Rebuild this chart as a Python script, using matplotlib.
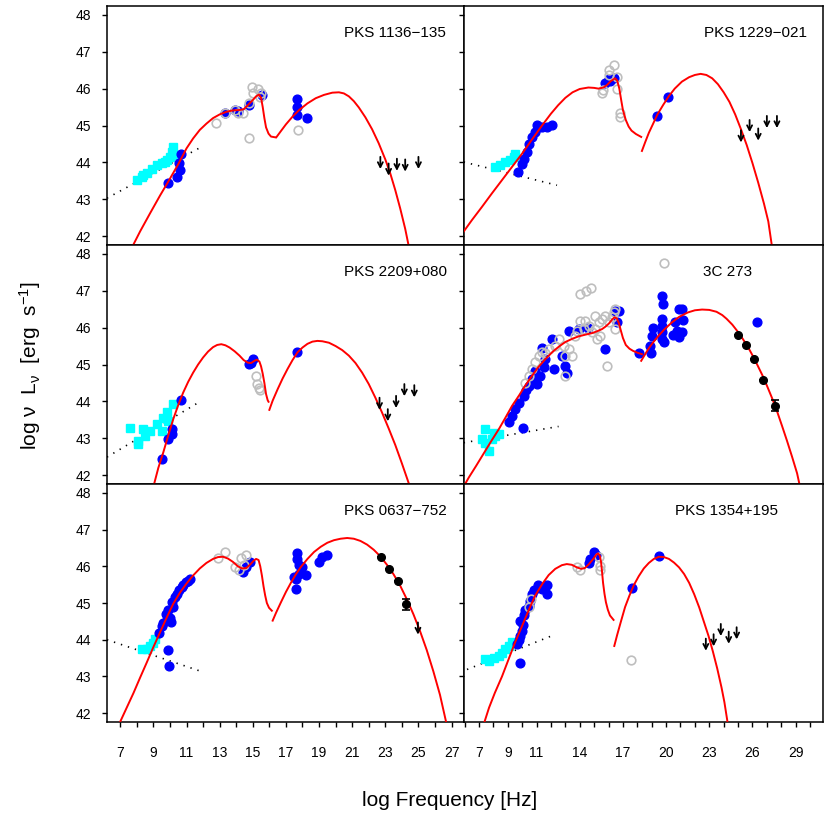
import numpy as np
import matplotlib
matplotlib.use("Agg")
import matplotlib.pyplot as plt

plt.rcParams['font.family'] = ['Liberation Sans', 'DejaVu Sans']
plt.rcParams['mathtext.default'] = 'regular'

# ---------------- PKS 1136-135 ----------------
p1_name = "PKS 1136\u2212135"
p1_sync = [(7.6, 41.6), (8.2, 42.13), (8.8, 42.62), (9.4, 43.1), (9.9, 43.48), (10.5, 43.95), (11.0, 44.38),
           (11.4, 44.65), (11.8, 44.88), (12.2, 45.05), (12.6, 45.2), (13.0, 45.3), (13.4, 45.37),
           (13.8, 45.41), (14.2, 45.42), (14.45, 45.44), (14.7, 45.55), (15.0, 45.69), (15.2, 45.79),
           (15.37, 45.84), (15.5, 45.75), (15.6, 45.5), (15.7, 45.2), (15.8, 44.95), (15.95, 44.78),
           (16.1, 44.7), (16.35, 44.68)]
p1_ic = [(16.42, 44.68), (16.7, 44.85), (17.0, 45.03), (17.4, 45.24), (17.8, 45.42), (18.3, 45.6),
         (18.8, 45.74), (19.3, 45.83), (19.8, 45.89), (20.2, 45.9), (20.5, 45.87), (20.8, 45.79),
         (21.1, 45.66), (21.4, 45.49), (21.8, 45.22), (22.2, 44.9), (22.6, 44.52), (23.0, 44.08),
         (23.3, 43.7), (23.6, 43.25), (23.9, 42.75), (24.2, 42.2), (24.45, 41.65)]
p1_blue = [(9.9, 43.44), (10.4, 43.61), (10.6, 43.79), (10.57, 43.97), (10.65, 44.24), (13.3, 45.33),
           (13.9, 45.42), (14.1, 45.4), (14.8, 45.55), (15.55, 45.83), (17.67, 45.73), (17.65, 45.51),
           (17.65, 45.28), (18.3, 45.19)]
p1_gray = [(12.8, 45.07), (13.3, 45.34), (13.9, 45.43), (14.1, 45.33), (14.4, 45.35), (14.78, 44.65),
           (14.8, 45.6), (14.96, 46.05), (15.3, 46.0), (15.0, 45.87), (15.5, 45.87), (15.45, 45.76), (17.7, 44.87)]
p1_cyan = [(8.0, 43.52), (8.3, 43.61), (8.4, 43.65), (8.6, 43.7), (8.9, 43.83), (9.2, 43.92), (9.5, 43.97),
           (9.7, 44.0), (9.8, 44.06), (10.0, 44.15), (10.2, 44.2), (10.1, 44.28), (10.2, 44.42)]
p1_dot = [(6.2, 43.03), (11.9, 44.42)]
p1_ul = [(22.7, 44.15), (23.2, 43.97), (23.7, 44.1), (24.2, 44.08), (25.0, 44.15)]
p1_black = []
p1_err = []

# ---------------- PKS 1229-021 ----------------
p2_name = "PKS 1229\u2212021"
p2_sync = [(5.8, 42.05), (6.5, 42.43), (7.2, 42.79), (7.9, 43.16), (8.6, 43.52), (9.3, 43.88), (10.0, 44.24),
           (10.7, 44.63), (11.4, 45.01), (12.0, 45.32), (12.5, 45.55), (13.0, 45.75), (13.5, 45.9),
           (14.0, 45.99), (14.6, 46.03), (15.0, 46.02), (15.3, 46.0), (15.65, 46.03), (15.9, 46.1),
           (16.15, 46.2), (16.45, 46.28), (16.6, 46.22), (16.75, 46.0), (16.88, 45.69), (17.0, 45.42),
           (17.2, 45.15), (17.4, 44.97), (17.6, 44.86), (17.9, 44.77), (18.27, 44.69)]
p2_ic = [(18.32, 44.31), (18.55, 44.55), (18.8, 44.8), (19.1, 45.05), (19.4, 45.3), (19.8, 45.56),
         (20.2, 45.8), (20.6, 46.0), (21.1, 46.19), (21.6, 46.31), (22.0, 46.37), (22.4, 46.4),
         (22.8, 46.37), (23.2, 46.28), (23.6, 46.12), (24.0, 45.9), (24.4, 45.64), (24.8, 45.3),
         (25.2, 44.9), (25.6, 44.47), (26.0, 43.98), (26.4, 43.45), (26.8, 42.88), (27.1, 42.4), (27.4, 41.6)]
p2_blue = [(9.71, 43.74), (9.99, 43.95), (10.1, 44.1), (10.33, 44.29), (10.45, 44.51), (10.68, 44.69),
           (10.9, 44.83), (11.14, 44.97), (11.03, 45.01), (11.38, 44.97), (11.72, 44.97), (12.07, 45.01),
           (15.77, 46.14), (16.12, 46.21), (16.35, 46.28), (16.0, 46.25), (19.36, 45.26), (20.13, 45.78)]
p2_gray = [(15.54, 45.87), (15.65, 45.95), (16.0, 46.5), (16.35, 46.64), (16.58, 46.32), (16.58, 46.0),
           (16.81, 45.33), (16.81, 45.24), (16.0, 46.37)]
p2_cyan = [(8.13, 43.88), (8.48, 43.92), (8.83, 44.0), (9.18, 44.06), (9.41, 44.15), (9.52, 44.24)]
p2_dot = [(5.94, 44.01), (12.42, 43.38)]
p2_ul = [(25.2, 44.87), (25.8, 45.15), (26.4, 44.92), (27.0, 45.26), (27.7, 45.26)]
p2_black = []
p2_err = []

# ---------------- PKS 2209+080 ----------------
p3_name = "PKS 2209+080"
p3_sync = [(8.95, 41.6), (9.3, 42.2), (9.6, 42.62), (9.9, 43.08), (10.2, 43.52), (10.5, 43.9), (10.8, 44.24),
           (11.1, 44.53), (11.4, 44.78), (11.7, 45.0), (12.0, 45.19), (12.3, 45.35), (12.6, 45.47),
           (12.85, 45.53), (13.1, 45.55), (13.35, 45.52), (13.6, 45.46), (13.9, 45.36), (14.2, 45.24),
           (14.45, 45.12), (14.7, 45.05), (14.9, 45.04), (15.1, 45.1), (15.25, 45.13), (15.4, 45.08),
           (15.5, 44.95), (15.6, 44.75), (15.7, 44.5), (15.8, 44.2), (15.9, 44.03), (15.95, 43.99)]
p3_ic = [(16.0, 43.77), (16.2, 44.02), (16.5, 44.33), (16.8, 44.62), (17.1, 44.88), (17.4, 45.12),
         (17.7, 45.33), (18.0, 45.46), (18.3, 45.56), (18.6, 45.62), (18.9, 45.64), (19.2, 45.63),
         (19.6, 45.59), (20.0, 45.5), (20.4, 45.39), (20.8, 45.24), (21.2, 45.04), (21.6, 44.78),
         (22.0, 44.47), (22.4, 44.1), (22.8, 43.7), (23.2, 43.27), (23.6, 42.82), (24.0, 42.32),
         (24.4, 41.8), (24.55, 41.6)]
p3_blue = [(9.55, 42.43), (9.87, 42.97), (10.1, 43.11), (10.1, 43.24), (10.67, 44.03), (14.8, 45.01),
           (14.9, 45.05), (15.0, 45.15), (17.65, 45.33)]
p3_gray = [(15.2, 44.68), (15.27, 44.47), (15.4, 44.35), (15.45, 44.3)]
p3_cyan = [(7.56, 43.29), (8.1, 42.93), (8.1, 42.84), (8.35, 43.24), (8.5, 43.06), (8.8, 43.2), (9.2, 43.38),
           (9.5, 43.2), (9.6, 43.56), (9.8, 43.7), (9.9, 43.47), (10.2, 43.92)]
p3_dot = [(6.2, 42.49), (11.8, 43.99)]
p3_ul = [(22.65, 44.1), (23.15, 43.79), (23.65, 44.15), (24.15, 44.47), (24.75, 44.44)]
p3_black = []
p3_err = []

# ---------------- 3C 273 ----------------
p4_name = "3C 273"
p4_sync = [(5.8, 41.6), (6.3, 41.94), (6.8, 42.25), (7.3, 42.57), (7.8, 42.89), (8.4, 43.26), (8.9, 43.6),
           (9.3, 43.88), (9.8, 44.17), (10.2, 44.42), (10.7, 44.7), (11.1, 44.92), (11.6, 45.14),
           (12.1, 45.34), (12.6, 45.5), (13.0, 45.61), (13.5, 45.7), (13.9, 45.76), (14.4, 45.81),
           (14.85, 45.85), (15.2, 45.9), (15.55, 45.96), (15.8, 46.03), (16.05, 46.12), (16.25, 46.22),
           (16.42, 46.28), (16.58, 46.25), (16.72, 46.12), (16.85, 45.93), (17.0, 45.72), (17.2, 45.53),
           (17.45, 45.43), (17.7, 45.37), (18.0, 45.32), (18.32, 45.28)]
p4_ic = [(18.27, 45.1), (18.5, 45.25), (18.8, 45.44), (19.1, 45.6), (19.5, 45.79), (19.9, 45.96),
         (20.4, 46.14), (20.9, 46.29), (21.5, 46.41), (22.0, 46.47), (22.5, 46.49), (23.0, 46.48),
         (23.5, 46.43), (23.9, 46.34), (24.2, 46.24), (24.6, 46.08), (25.0, 45.88), (25.3, 45.71),
         (25.65, 45.5), (26.0, 45.25), (26.35, 44.98), (26.7, 44.7), (27.0, 44.43), (27.35, 44.1),
         (27.7, 43.74), (28.05, 43.34), (28.4, 42.93), (28.75, 42.5), (29.1, 42.05), (29.35, 41.6)]
p4_blue = [(9.06, 43.44), (9.3, 43.6), (9.52, 43.79), (9.8, 43.95), (10.1, 44.15), (10.06, 43.29),
           (10.3, 44.3), (10.45, 44.42), (10.7, 44.6), (10.91, 44.83), (11.03, 44.47), (11.26, 44.69),
           (11.49, 44.92), (11.61, 45.15), (11.38, 45.46), (12.07, 45.69), (12.19, 44.87), (12.76, 45.24),
           (12.99, 44.97), (13.1, 44.78), (13.23, 45.92), (13.92, 45.96), (14.6, 46.0), (15.77, 45.42),
           (16.58, 46.14), (16.75, 46.46), (16.47, 46.46), (18.13, 45.3), (18.97, 45.3), (18.9, 45.5),
           (19.08, 46.0), (19.02, 45.78), (19.72, 46.87), (19.78, 46.64), (19.72, 46.23), (19.72, 46.05),
           (19.72, 45.87), (19.72, 45.69), (19.85, 45.6), (20.87, 46.5), (21.1, 46.5), (20.63, 46.14),
           (20.75, 45.92), (20.87, 45.74), (21.1, 45.87), (21.2, 46.2), (20.5, 45.8), (26.31, 46.14)]
p4_gray = [(14.04, 46.91), (14.43, 47.0), (14.8, 47.08), (19.82, 47.75), (15.89, 44.97), (16.47, 45.96),
           (10.22, 44.51), (10.45, 44.69), (10.68, 44.87), (10.91, 45.06), (11.14, 45.24), (11.38, 45.33),
           (11.84, 45.42), (12.3, 45.51), (12.53, 45.69), (12.99, 45.24), (13.23, 45.42), (13.46, 45.24),
           (12.99, 44.69), (13.69, 45.78), (14.04, 46.19), (14.39, 46.19), (14.62, 46.05), (14.84, 45.87),
           (15.08, 45.96), (15.31, 46.14), (15.54, 46.23), (15.77, 46.32), (16.0, 46.14), (16.24, 46.28),
           (16.35, 46.41), (16.47, 46.5), (15.08, 46.32), (15.2, 45.69), (15.43, 45.78), (11.6, 45.3),
           (12.9, 45.5), (13.8, 45.9), (14.3, 45.95)]
p4_cyan = [(7.44, 43.24), (7.21, 42.97), (7.44, 42.88), (7.67, 42.66), (7.9, 42.97), (8.13, 43.06),
           (8.37, 43.11), (8.02, 43.15)]
p4_dot = [(5.94, 42.88), (12.53, 43.32)]
p4_ul = []
p4_black = [(24.99, 45.81), (25.56, 45.54), (26.14, 45.16), (26.72, 44.59), (27.58, 43.88)]
p4_err = [0, 0, 0, 0, 0.15]

# ---------------- PKS 0637-752 ----------------
p5_name = "PKS 0637\u2212752"
p5_sync = [(6.9, 41.6), (7.0, 41.77), (7.4, 42.16), (7.8, 42.55), (8.2, 42.97), (8.6, 43.38), (9.0, 43.8),
           (9.4, 44.2), (9.8, 44.6), (10.2, 44.98), (10.6, 45.28), (11.0, 45.53), (11.4, 45.75),
           (11.8, 45.94), (12.2, 46.09), (12.6, 46.2), (12.9, 46.25), (13.2, 46.26), (13.5, 46.21),
           (13.8, 46.12), (14.1, 46.0), (14.35, 45.94), (14.6, 45.95), (14.85, 46.05), (15.05, 46.15),
           (15.2, 46.2), (15.35, 46.17), (15.45, 46.0), (15.55, 45.75), (15.65, 45.45), (15.75, 45.2),
           (15.85, 45.0), (15.98, 44.87), (16.15, 44.79)]
p5_ic = [(16.2, 44.52), (16.4, 44.73), (16.7, 45.02), (17.0, 45.3), (17.3, 45.55), (17.6, 45.78),
         (17.9, 45.98), (18.3, 46.2), (18.7, 46.39), (19.1, 46.53), (19.5, 46.64), (19.9, 46.71),
         (20.3, 46.75), (20.7, 46.77), (21.1, 46.75), (21.5, 46.69), (21.9, 46.59), (22.3, 46.45),
         (22.7, 46.27), (23.1, 46.04), (23.5, 45.78), (23.9, 45.47), (24.3, 45.1), (24.7, 44.69),
         (25.1, 44.23), (25.5, 43.72), (25.9, 43.14), (26.3, 42.5), (26.75, 41.6)]
p5_blue = [(9.36, 44.18), (9.5, 44.38), (9.6, 44.45), (9.77, 44.7), (9.9, 44.8), (10.07, 44.47),
           (10.1, 45.02), (10.2, 44.9), (10.3, 45.15), (10.4, 45.25), (10.55, 45.35), (10.7, 45.44),
           (10.8, 45.5), (10.97, 45.57), (11.1, 45.6), (11.2, 45.66), (9.8, 44.55), (10.0, 44.6),
           (9.9, 43.71), (9.93, 43.28), (14.4, 45.85), (14.6, 45.98), (14.85, 46.12), (17.65, 46.35),
           (17.65, 46.21), (17.8, 46.03), (18.0, 45.98), (18.2, 45.76), (17.6, 45.66), (17.6, 45.39),
           (17.8, 45.8), (17.5, 45.7), (19.0, 46.12), (19.2, 46.26), (19.45, 46.3)]
p5_gray = [(12.9, 46.23), (13.3, 46.4), (14.3, 46.23), (14.6, 46.32), (13.9, 45.97), (14.15, 45.89),
           (14.45, 46.03)]
p5_cyan = [(8.3, 43.74), (8.6, 43.74), (8.8, 43.83), (8.95, 43.92), (9.1, 44.03)]
p5_dot = [(6.2, 44.0), (12.0, 43.12)]
p5_ul = [(24.97, 44.47)]
p5_black = [(22.75, 46.24), (23.22, 45.92), (23.75, 45.61), (24.22, 44.96)]
p5_err = [0, 0, 0, 0.15]

# ---------------- PKS 1354+195 ----------------
p6_name = "PKS 1354+195"
p6_sync = [(7.25, 41.6), (7.7, 42.15), (8.1, 42.55), (8.6, 43.0), (9.06, 43.47), (9.5, 43.92), (10.0, 44.38),
           (10.45, 44.8), (10.9, 45.2), (11.4, 45.52), (11.84, 45.76), (12.3, 45.93), (12.76, 46.03),
           (13.1, 46.06), (13.45, 46.04), (13.8, 45.97), (14.1, 45.93), (14.35, 45.95), (14.62, 46.05),
           (14.96, 46.21), (15.15, 46.32), (15.28, 46.35), (15.4, 46.28), (15.48, 46.12), (15.55, 45.85),
           (15.62, 45.55), (15.72, 45.25), (15.82, 45.02), (15.95, 44.82), (16.1, 44.66), (16.35, 44.54)]
p6_ic = [(16.4, 43.83), (16.6, 44.13), (16.85, 44.48), (17.15, 44.89), (17.45, 45.2), (17.75, 45.48),
         (18.1, 45.73), (18.45, 45.94), (18.8, 46.09), (19.15, 46.2), (19.5, 46.26), (19.85, 46.25),
         (20.2, 46.2), (20.55, 46.1), (20.9, 45.97), (21.25, 45.79), (21.6, 45.55), (21.95, 45.24),
         (22.3, 44.88), (22.65, 44.46), (22.95, 44.1), (23.25, 43.68), (23.55, 43.22), (23.85, 42.7),
         (24.05, 42.3), (24.25, 41.8), (24.3, 41.6)]
p6_blue = [(9.82, 43.36), (9.64, 43.88), (9.75, 44.0), (9.87, 44.1), (9.99, 44.25), (10.05, 44.4),
           (9.87, 44.52), (10.1, 44.66), (10.2, 44.8), (10.45, 44.93), (10.55, 45.05), (10.68, 45.25),
           (10.85, 45.35), (11.1, 45.5), (11.38, 45.39), (11.72, 45.5), (11.72, 45.25), (14.62, 46.08),
           (14.73, 46.21), (14.96, 46.38), (15.1, 46.3), (17.63, 45.41), (19.48, 46.28)]
p6_gray = [(10.45, 44.89), (10.63, 45.12), (13.81, 45.99), (14.04, 45.89), (15.31, 46.26), (15.43, 46.01),
           (15.43, 45.89), (17.58, 43.45)]
p6_cyan = [(7.44, 43.47), (7.67, 43.42), (8.02, 43.51), (8.37, 43.56), (8.6, 43.65), (8.83, 43.74),
           (9.06, 43.83), (9.29, 43.94)]
p6_dot = [(6.17, 43.19), (11.95, 44.09)]
p6_ul = [(22.76, 44.03), (23.3, 44.15), (23.8, 44.43), (24.35, 44.22), (24.9, 44.34)]
p6_black = []
p6_err = []

panels = [
    (p1_name, 20.5, p1_sync, p1_ic, p1_blue, p1_gray, p1_cyan, p1_dot, p1_ul, p1_black, p1_err),
    (p2_name, 22.6, p2_sync, p2_ic, p2_blue, p2_gray, p2_cyan, p2_dot, p2_ul, p2_black, p2_err),
    (p3_name, 20.5, p3_sync, p3_ic, p3_blue, p3_gray, p3_cyan, p3_dot, p3_ul, p3_black, p3_err),
    (p4_name, 22.55, p4_sync, p4_ic, p4_blue, p4_gray, p4_cyan, p4_dot, p4_ul, p4_black, p4_err),
    (p5_name, 20.5, p5_sync, p5_ic, p5_blue, p5_gray, p5_cyan, p5_dot, p5_ul, p5_black, p5_err),
    (p6_name, 20.6, p6_sync, p6_ic, p6_blue, p6_gray, p6_cyan, p6_dot, p6_ul, p6_black, p6_err),
]

left_labels = [7, 9, 11, 13, 15, 17, 19, 21, 23, 25, 27]
right_labels = [7, 9, 11, 14, 17, 20, 23, 26, 29]

fig = plt.figure(figsize=(8.3, 8.3), dpi=100)
col_x = [107 / 830, 464 / 830]
col_w = [357 / 830, 359 / 830]
row_y = [1 - 245 / 830, 1 - 484 / 830, 1 - 722 / 830]
row_h = [239 / 830, 239 / 830, 238 / 830]
xlims = [(6.2, 27.75), (5.96, 30.9)]


def xy(pts):
    a = np.array(pts, dtype=float).reshape(-1, 2)
    return a[:, 0], a[:, 1]


for i, (name, tx, sync, ic, blue, gray, cyan, dot, ul, black, err) in enumerate(panels):
    r, c = i // 2, i % 2
    ax = fig.add_axes([col_x[c], row_y[r], col_w[c], row_h[r]])
    ax.set_xlim(*xlims[c])
    ax.set_ylim(41.76, 48.24)

    x, y = xy(dot)
    ax.plot(x, y, color='k', lw=1.2, ls=(0, (0.8, 3.6)), zorder=2)
    x, y = xy(cyan)
    ax.plot(x, y, 's', color='#00FFFF', ms=5.5, mec='#00FFFF', zorder=3)
    x, y = xy(blue)
    ax.plot(x, y, 'o', color='#0000FF', ms=6.3, mec='#0000FF', zorder=4)
    x, y = xy(gray)
    ax.plot(x, y, 'o', mfc='none', mec='#BEBEBE', mew=1.2, ms=6.2, zorder=5)
    for seg in (sync, ic):
        x, y = xy(seg)
        ax.plot(x, y, color='#FF0000', lw=1.4, zorder=6, solid_joinstyle='round')
    if black:
        x, y = xy(black)
        ax.errorbar(x, y, yerr=err, fmt='o', color='k', ms=5.5, capsize=3, elinewidth=1.2,
                    capthick=1.2, zorder=7)
    for ux, uy in ul:
        ax.annotate('', xy=(ux, uy - 0.33), xytext=(ux, uy),
                    arrowprops=dict(arrowstyle='->,head_length=0.35,head_width=0.18', color='k',
                                    lw=1.3, shrinkA=0, shrinkB=0), zorder=7)

    ax.text(tx, 47.5, name, ha='left', va='center', fontsize=11)

    for s in ax.spines.values():
        s.set_linewidth(1.1)
    ticks = list(range(7, 28)) if c == 0 else list(range(6, 31))
    labs = left_labels if c == 0 else right_labels
    ax.set_xticks(ticks)
    if r == 2:
        ax.set_xticklabels([str(t) if t in labs else '' for t in ticks])
    else:
        ax.set_xticklabels([])
    ax.set_yticks(range(42, 49))
    if c == 0:
        ax.set_yticklabels([str(v) for v in range(42, 49)])
    else:
        ax.set_yticklabels([])
    ax.tick_params(axis='both', direction='out', length=3.5, width=1.0, labelsize=10)
    ax.tick_params(axis='x', pad=14)
    ax.tick_params(axis='y', pad=8)

fig.text(0.036, 0.56, r'log $\nu$  L$_{\nu}$  [erg  s$^{-1}$]', rotation=90, ha='center', va='center',
         fontsize=15)
fig.text(0.542, 0.036, 'log Frequency [Hz]', ha='center', va='center', fontsize=15)

fig.savefig('out.png', dpi=100)
